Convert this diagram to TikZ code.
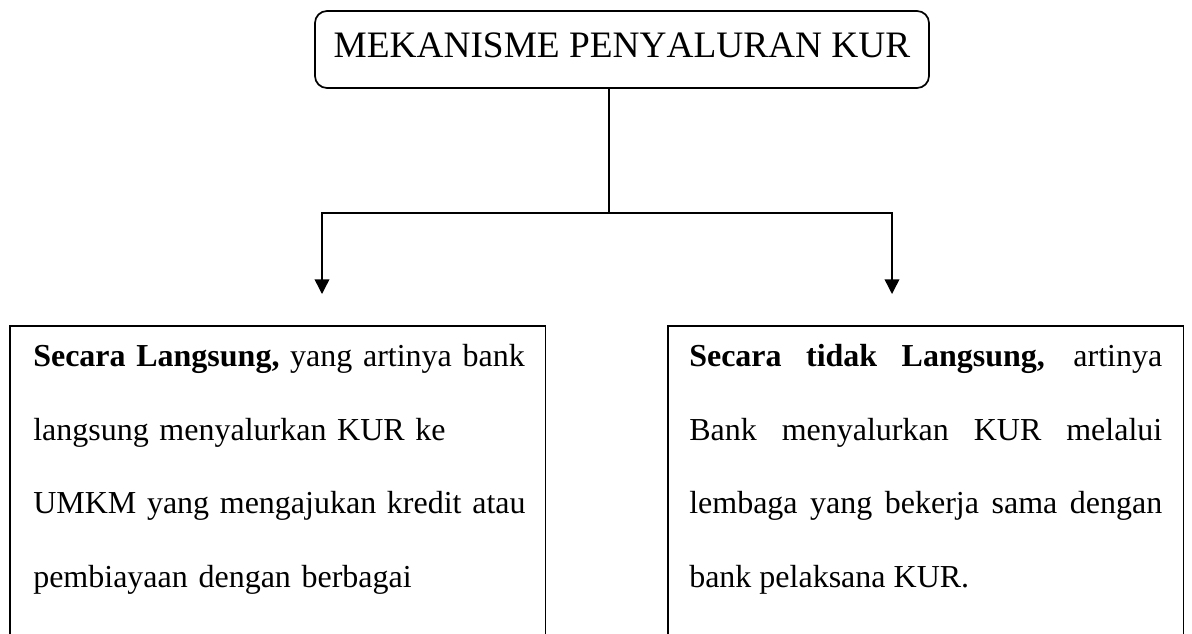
\documentclass[tikz,border=0pt]{standalone}
\usepackage{fontspec}
\setmainfont{Liberation Serif}
\newfontfamily\titlefont[Kerning=Off]{Liberation Serif}
\usetikzlibrary{arrows.meta}
\begin{document}
\begin{tikzpicture}[x=0.75pt,y=-0.75pt,
  lineconn/.style={line width=1.1pt},
  arrowconn/.style={line width=1.1pt,-{Triangle[width=11pt,length=11pt]}},
  titlebox/.style={draw,line width=1.3pt,rounded corners=9pt,minimum width=460.5pt,minimum height=57.75pt,
    font=\titlefont\fontsize{28pt}{32pt}\selectfont,text height=18.75pt,text depth=7.5pt},
  bodytext/.style={anchor=north west,inner ysep=13.5pt,font=\fontsize{24pt}{55.2pt}\selectfont},
  boxline/.style={line width=1.3pt}]
\useasboundingbox (0,0) rectangle (1192,633);
\clip (0,0) rectangle (1192,633);
\node[titlebox] (title) at (622,49.5) {MEKANISME PENYALURAN KUR};
\coordinate (j) at (609,213);
\coordinate (lt) at (322,294);
\coordinate (rt) at (892,294);
\coordinate (bottom) at (0,700);
\draw[lineconn] (title.south -| j) -- (j);
\draw[arrowconn] (j) -| (lt);
\draw[arrowconn] (j) -| (rt);
\node[bodytext,inner xsep=17.25pt,text width=366.75pt,align=left] (ltext) at (10,326)
  {\mbox{\textbf{Secara Langsung,} yang artinya bank}\\
   \mbox{langsung menyalurkan KUR ke}\\
   \mbox{UMKM yang mengajukan kredit atau}\\
   \mbox{pembiayaan dengan berbagai}};
\node[bodytext,inner xsep=15.75pt,text width=354.75pt,align=justify] (rtext) at (668,326)
  {\textbf{Secara tidak Langsung,} artinya\linebreak
   Bank menyalurkan KUR melalui\linebreak
   lembaga yang bekerja sama dengan\linebreak
   bank pelaksana KUR.};
\draw[boxline] (ltext.north west) rectangle (ltext.east |- bottom);
\draw[boxline] (rtext.north west) rectangle (rtext.east |- bottom);
\end{tikzpicture}
\end{document}
